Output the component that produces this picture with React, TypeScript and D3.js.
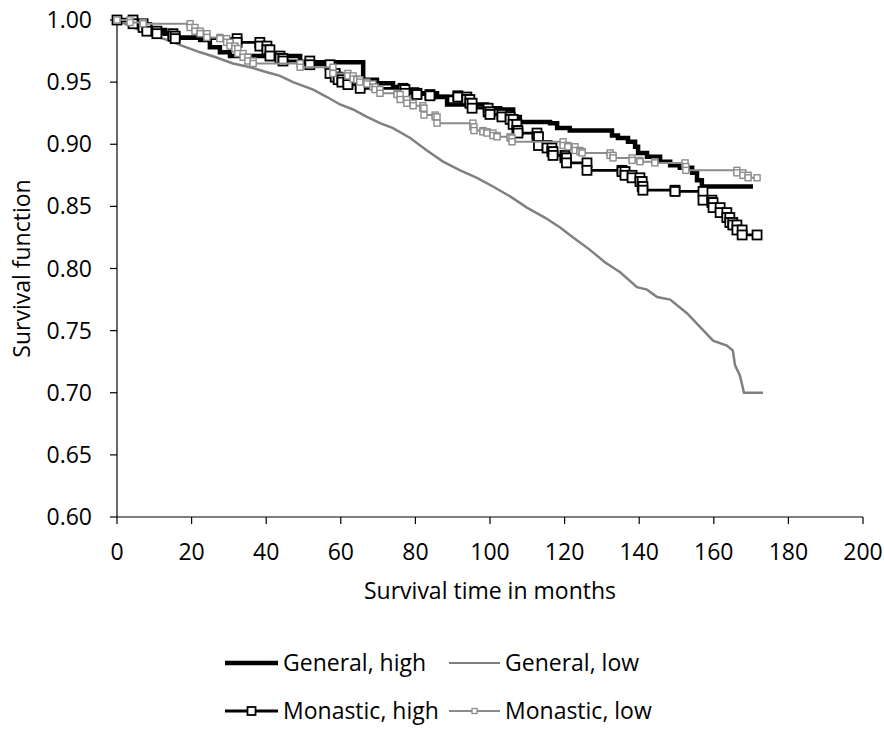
import { useEffect, useRef } from "react";
import * as d3 from "d3";

const xTicks = [0, 20, 40, 60, 80, 100, 120, 140, 160, 180, 200];
const yTicks = [0.6, 0.65, 0.7, 0.75, 0.8, 0.85, 0.9, 0.95, 1.0];

// General, high
const genHighMonths = [0, 3.0, 5.6, 8.9, 12.9, 15.6, 22.3, 24.9, 27.6, 30.3, 49.1, 66.0, 69.7, 74.0, 77.8, 80.4, 85.8, 88.5, 99.2, 102.7, 106.2, 108.0, 116.1, 118.0, 121.4, 132.7, 134.3, 137.0, 138.9, 139.7, 142.1, 145.6, 148.3, 150.9, 154.2, 155.5, 156.8, 170.5];
const genHighSurv = [1, 0.998, 0.995, 0.992, 0.989, 0.986, 0.984, 0.978, 0.974, 0.971, 0.966, 0.952, 0.949, 0.946, 0.944, 0.941, 0.938, 0.932, 0.929, 0.928, 0.922, 0.918, 0.917, 0.913, 0.911, 0.907, 0.905, 0.902, 0.898, 0.893, 0.89, 0.886, 0.883, 0.881, 0.877, 0.871, 0.866, 0.866];

// General, low
const genLowMonths = [0, 4.3, 8.9, 13.4, 17.7, 22.3, 26.5, 31.1, 35.7, 40.2, 43.7, 47.2, 52.6, 56.3, 59.8, 63.3, 67.0, 70.5, 74.0, 78.6, 83.1, 87.4, 92.0, 96.5, 100.8, 105.4, 109.9, 114.7, 118.8, 122.3, 126.8, 130.8, 134.9, 139.4, 142.1, 144.8, 148.3, 152.8, 156.3, 159.8, 163.5, 165.1, 165.7, 167.0, 168.1, 173.2];
const genLowSurv = [1, 0.994, 0.988, 0.984, 0.979, 0.974, 0.97, 0.965, 0.962, 0.958, 0.955, 0.95, 0.944, 0.938, 0.932, 0.928, 0.922, 0.917, 0.913, 0.905, 0.895, 0.886, 0.879, 0.873, 0.866, 0.858, 0.849, 0.841, 0.833, 0.825, 0.815, 0.805, 0.797, 0.785, 0.783, 0.777, 0.775, 0.764, 0.753, 0.742, 0.738, 0.734, 0.722, 0.714, 0.7, 0.7];

// Monastic, high
const monHighMonths = [0, 4.3, 7.0, 8.0, 10.7, 15.0, 15.6, 32.2, 38.3, 40.2, 41.0, 43.7, 44.5, 51.7, 57.1, 58.5, 59.3, 60.3, 61.9, 65.2, 76.7, 77.2, 80.4, 83.9, 91.4, 93.8, 94.6, 95.2, 99.5, 100.0, 103.2, 105.4, 106.2, 107.2, 107.5, 112.6, 113.0, 115.3, 116.6, 116.9, 120.1, 120.5, 126.0, 135.4, 136.2, 138.1, 140.2, 140.8, 141.0, 149.6, 157.1, 159.5, 159.8, 161.7, 163.5, 164.3, 165.1, 166.2, 167.6, 171.6];
const monHighSurv = [1, 0.997, 0.994, 0.991, 0.989, 0.987, 0.985, 0.982, 0.979, 0.976, 0.971, 0.969, 0.967, 0.964, 0.957, 0.954, 0.952, 0.95, 0.948, 0.945, 0.944, 0.941, 0.94, 0.939, 0.938, 0.936, 0.933, 0.929, 0.926, 0.924, 0.922, 0.92, 0.916, 0.911, 0.909, 0.906, 0.899, 0.897, 0.894, 0.891, 0.889, 0.885, 0.879, 0.878, 0.875, 0.873, 0.87, 0.866, 0.863, 0.862, 0.855, 0.853, 0.849, 0.845, 0.841, 0.837, 0.835, 0.831, 0.827, 0.827];

// Monastic, low
const monLowMonths = [0, 3.5, 7.0, 19.6, 20.9, 22.3, 24.1, 27.6, 29.4, 30.3, 31.6, 32.4, 33.8, 35.1, 36.5, 49.1, 57.9, 61.9, 63.3, 64.3, 65.1, 67.0, 68.6, 69.2, 70.5, 75.1, 75.9, 77.7, 79.4, 82.0, 82.3, 85.3, 85.8, 95.4, 95.7, 98.1, 99.2, 100.8, 101.9, 105.4, 105.9, 119.6, 120.9, 122.8, 124.1, 124.7, 132.2, 133.0, 138.1, 140.2, 144.2, 152.3, 152.5, 166.2, 167.8, 169.2, 171.6];
const monLowSurv = [1, 0.998, 0.997, 0.994, 0.991, 0.989, 0.986, 0.985, 0.982, 0.979, 0.977, 0.973, 0.97, 0.967, 0.965, 0.962, 0.957, 0.955, 0.9525, 0.952, 0.95, 0.9485, 0.946, 0.944, 0.941, 0.94, 0.936, 0.933, 0.931, 0.929, 0.9235, 0.922, 0.917, 0.914, 0.911, 0.91, 0.909, 0.907, 0.906, 0.905, 0.902, 0.899, 0.898, 0.895, 0.894, 0.893, 0.891, 0.889, 0.887, 0.886, 0.885, 0.882, 0.879, 0.877, 0.875, 0.873, 0.873];

const seriesNames = ["General, high", "General, low", "Monastic, high", "Monastic, low"];

const W = 884;
const H = 729;
const margin = { top: 20, right: 21, bottom: 212, left: 117 };
const FONT = "'Open Sans', sans-serif";

const App = () => {
    const svgRef = useRef<SVGSVGElement>(null);

    useEffect(() => {
        const svg = d3.select(svgRef.current);
        svg.selectAll("*").remove();

        const x = d3.scaleLinear().domain([0, 200]).range([margin.left, W - margin.right]);
        const y = d3.scaleLinear().domain([0.6, 1.0]).range([H - margin.bottom, margin.top]);

        const series = [
            { name: seriesNames[0], t: genHighMonths, s: genHighSurv, color: "#000", width: 4.5, marker: 0, curve: d3.curveStepAfter },
            { name: seriesNames[1], t: genLowMonths, s: genLowSurv, color: "#808080", width: 2.5, marker: 0, curve: d3.curveLinear },
            { name: seriesNames[2], t: monHighMonths, s: monHighSurv, color: "#000", width: 2.8, marker: 9, curve: d3.curveStepAfter },
            { name: seriesNames[3], t: monLowMonths, s: monLowSurv, color: "#8c8c8c", width: 2, marker: 6, curve: d3.curveStepAfter },
        ];

        // axes
        const axes = svg.append("g").attr("stroke", "#000").attr("stroke-width", 1.2);
        axes.append("line").attr("x1", x(0)).attr("x2", x(0)).attr("y1", y(1.0)).attr("y2", y(0.6));
        axes.append("line").attr("x1", x(0)).attr("x2", x(200)).attr("y1", y(0.6)).attr("y2", y(0.6));
        axes.selectAll(".yt").data(yTicks).join("line")
            .attr("x1", x(0) - 7).attr("x2", x(0))
            .attr("y1", (d) => y(d)).attr("y2", (d) => y(d));
        axes.selectAll(".xt").data(xTicks).join("line")
            .attr("x1", (d) => x(d)).attr("x2", (d) => x(d))
            .attr("y1", y(0.6)).attr("y2", y(0.6) + 7);

        const labels = svg.append("g").style("font-family", FONT).style("font-size", "23px").attr("fill", "#000");
        labels.selectAll(".yl").data(yTicks).join("text")
            .attr("x", x(0) - 25).attr("y", (d) => y(d) + 8)
            .attr("text-anchor", "end")
            .text((d) => d.toFixed(2));
        labels.selectAll(".xl").data(xTicks).join("text")
            .attr("x", (d) => x(d)).attr("y", y(0.6) + 43)
            .attr("text-anchor", "middle")
            .text((d) => d);
        labels.append("text")
            .attr("x", (x(0) + x(200)) / 2).attr("y", 599)
            .attr("text-anchor", "middle")
            .text("Survival time in months");
        labels.append("text")
            .attr("transform", `translate(30, ${(y(0.6) + y(1.0)) / 2}) rotate(-90)`)
            .attr("text-anchor", "middle")
            .text("Survival function");

        // curves
        const plot = svg.append("g");
        series.forEach((sr) => {
            const pts = sr.t.map((t, i) => [t, sr.s[i]] as [number, number]);
            const line = d3.line<[number, number]>()
                .x((d) => x(d[0]))
                .y((d) => y(d[1]))
                .curve(sr.curve);
            plot.append("path")
                .datum(pts)
                .attr("fill", "none")
                .attr("stroke", sr.color)
                .attr("stroke-width", sr.width)
                .attr("stroke-linejoin", "miter")
                .attr("d", line);

            if (sr.marker > 0) {
                // a square at both corners of every drop
                const marks: [number, number][] = [];
                pts.forEach((p, i) => {
                    if (i > 0 && pts[i - 1][1] !== p[1]) marks.push([p[0], pts[i - 1][1]]);
                    marks.push(p);
                });
                const m = sr.marker;
                plot.append("g").selectAll("rect").data(marks).join("rect")
                    .attr("x", (d) => x(d[0]) - m / 2)
                    .attr("y", (d) => y(d[1]) - m / 2)
                    .attr("width", m)
                    .attr("height", m)
                    .attr("fill", "#fff")
                    .attr("stroke", sr.color)
                    .attr("stroke-width", m > 7 ? 1.8 : 1.4);
            }
        });

        // legend, two columns
        const legendPos = [
            { lx: 225, ly: 663 },
            { lx: 449, ly: 663 },
            { lx: 225, ly: 711 },
            { lx: 449, ly: 711 },
        ];
        const legend = svg.append("g");
        series.forEach((sr, i) => {
            const p = legendPos[i];
            const len = i % 2 === 0 ? 53 : 51;
            legend.append("line")
                .attr("x1", p.lx).attr("x2", p.lx + len)
                .attr("y1", p.ly).attr("y2", p.ly)
                .attr("stroke", sr.color)
                .attr("stroke-width", i === 1 ? 2 : sr.width);
            if (sr.marker > 0) {
                const m = sr.marker === 9 ? 8 : 5;
                legend.append("rect")
                    .attr("x", p.lx + len / 2 - m / 2).attr("y", p.ly - m / 2)
                    .attr("width", m).attr("height", m)
                    .attr("fill", "#fff").attr("stroke", sr.color)
                    .attr("stroke-width", sr.marker === 9 ? 1.8 : 1.3);
            }
            legend.append("text")
                .attr("x", p.lx + len + 5).attr("y", p.ly + 8)
                .style("font-family", FONT).style("font-size", "23px")
                .text(sr.name);
        });
    }, []);

    return (
        <svg
            ref={svgRef}
            width={W}
            height={H}
            style={{ position: "absolute", left: 0, top: 0, background: "#fff" }}
        />
    );
};

export default App;
